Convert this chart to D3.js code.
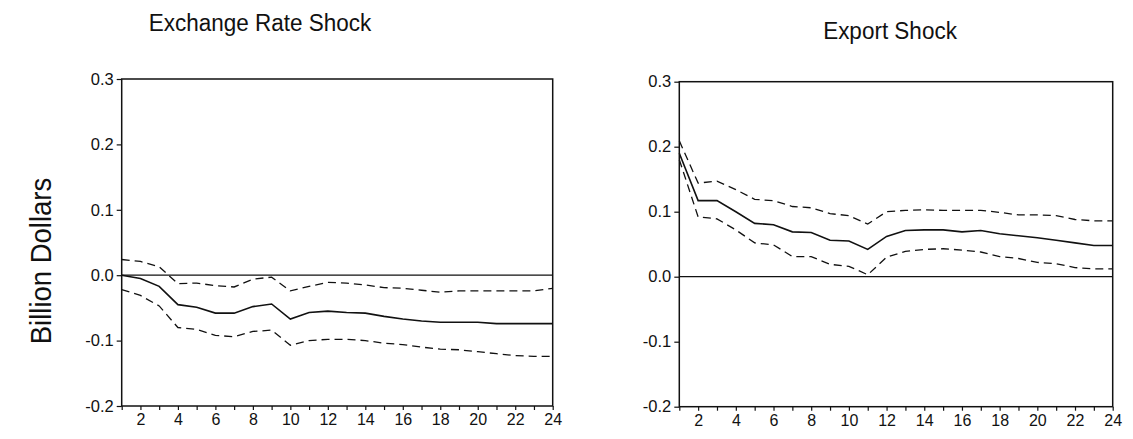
<!DOCTYPE html>
<html>
<head>
<meta charset="utf-8">
<script src="https://cdn.jsdelivr.net/npm/d3@7"></script>
<style>
  html, body { margin: 0; padding: 0; background: #fff; }
  svg { display: block; }
  text { font-family: "Liberation Sans", Arial, sans-serif; fill: #111; }
</style>
</head>
<body>
<svg id="chart" width="1133" height="439"></svg>
<script>
// ---- data ----
const periods = d3.range(1, 25);
const yTicks = [-0.2, -0.1, 0.0, 0.1, 0.2, 0.3];
const xTickLabels = [2, 4, 6, 8, 10, 12, 14, 16, 18, 20, 22, 24];
const titles = ["Exchange Rate Shock", "Export Shock"];
const yLabel = "Billion Dollars";

const erMid   = [0, -0.005, -0.017, -0.045, -0.049, -0.058, -0.058, -0.048, -0.044, -0.067, -0.057, -0.055, -0.057, -0.058, -0.063, -0.067, -0.070, -0.072, -0.072, -0.072, -0.074, -0.074, -0.074, -0.074];
const erUpper = [0.024, 0.021, 0.013, -0.013, -0.012, -0.016, -0.018, -0.006, -0.003, -0.024, -0.017, -0.011, -0.012, -0.015, -0.019, -0.020, -0.023, -0.026, -0.024, -0.024, -0.024, -0.024, -0.024, -0.020];
const erLower = [-0.022, -0.031, -0.047, -0.080, -0.083, -0.092, -0.094, -0.086, -0.084, -0.107, -0.100, -0.098, -0.098, -0.100, -0.104, -0.106, -0.110, -0.113, -0.114, -0.117, -0.120, -0.123, -0.124, -0.124];

const exMid   = [0.190, 0.117, 0.117, 0.100, 0.082, 0.080, 0.069, 0.068, 0.056, 0.055, 0.042, 0.062, 0.071, 0.072, 0.072, 0.069, 0.071, 0.066, 0.063, 0.060, 0.056, 0.052, 0.048, 0.048];
const exUpper = [0.209, 0.144, 0.147, 0.134, 0.119, 0.117, 0.108, 0.106, 0.097, 0.094, 0.081, 0.100, 0.102, 0.103, 0.102, 0.102, 0.102, 0.099, 0.095, 0.095, 0.094, 0.088, 0.086, 0.086];
const exLower = [0.180, 0.092, 0.089, 0.072, 0.052, 0.049, 0.031, 0.031, 0.019, 0.016, 0.003, 0.030, 0.039, 0.042, 0.043, 0.041, 0.038, 0.031, 0.028, 0.022, 0.020, 0.014, 0.012, 0.012];

// ---- layout ----
const svg = d3.select("#chart");
const panels = [
  { title: titles[0], mid: erMid, up: erUpper, lo: erLower, x0: 121.7, x1: 552.7, yTop: 79, yBot: 406, titleX: 260, titleY: 31 },
  { title: titles[1], mid: exMid, up: exUpper, lo: exLower, x0: 679.3, x1: 1112.7, yTop: 81.7, yBot: 406.7, titleX: 890, titleY: 39 }
];

svg.append("text")
  .attr("transform", "translate(51,261) rotate(-90) scale(1,1.05)")
  .attr("text-anchor", "middle")
  .style("font-size", "27.5px")
  .text(yLabel);

panels.forEach(p => {
  const x = d3.scaleLinear().domain([1, 24]).range([p.x0, p.x1]);
  const y = d3.scaleLinear().domain([-0.2, 0.3]).range([p.yBot, p.yTop]);
  const g = svg.append("g");

  g.append("text")
    .attr("transform", `translate(${p.titleX},${p.titleY}) scale(1,1.1)`)
    .attr("text-anchor", "middle")
    .style("font-size", "22.5px")
    .text(p.title);

  // y axis
  const ya = g.append("g").attr("transform", `translate(${p.x0},0)`)
    .call(d3.axisLeft(y).tickValues(yTicks).tickSize(5).tickPadding(3)
      .tickFormat(d => d.toFixed(1).replace("\u2212", "-")));
  ya.select(".domain").remove();
  ya.selectAll("text").style("font-size", "16.5px").style("font-family", "'Liberation Sans', Arial, sans-serif").attr("fill", "#111");
  ya.selectAll("line").attr("stroke", "#111").attr("stroke-width", 1.2);

  // x axis
  const xa = g.append("g").attr("transform", `translate(0,${p.yBot})`)
    .call(d3.axisBottom(x).tickValues(periods).tickSize(4).tickPadding(4)
      .tickFormat(d => xTickLabels.includes(d) ? String(d) : ""));
  xa.select(".domain").remove();
  xa.selectAll("text").style("font-size", "16px").style("font-family", "'Liberation Sans', Arial, sans-serif").attr("fill", "#111");
  xa.selectAll("line").attr("stroke", "#111").attr("stroke-width", 1.2);

  // frame
  g.append("rect")
    .attr("x", p.x0).attr("y", p.yTop)
    .attr("width", p.x1 - p.x0).attr("height", p.yBot - p.yTop)
    .attr("fill", "none").attr("stroke", "#111").attr("stroke-width", 1.5);

  // zero line
  g.append("line")
    .attr("x1", p.x0).attr("x2", p.x1)
    .attr("y1", y(0)).attr("y2", y(0))
    .attr("stroke", "#111").attr("stroke-width", 1.3);

  const line = d3.line().x((d, i) => x(periods[i])).y(d => y(d));

  g.append("path").datum(p.up).attr("d", line)
    .attr("fill", "none").attr("stroke", "#111").attr("stroke-width", 1.3)
    .attr("stroke-dasharray", "8,5");
  g.append("path").datum(p.lo).attr("d", line)
    .attr("fill", "none").attr("stroke", "#111").attr("stroke-width", 1.3)
    .attr("stroke-dasharray", "8,5");
  g.append("path").datum(p.mid).attr("d", line)
    .attr("fill", "none").attr("stroke", "#111").attr("stroke-width", 1.6);
});
</script>
</body>
</html>
